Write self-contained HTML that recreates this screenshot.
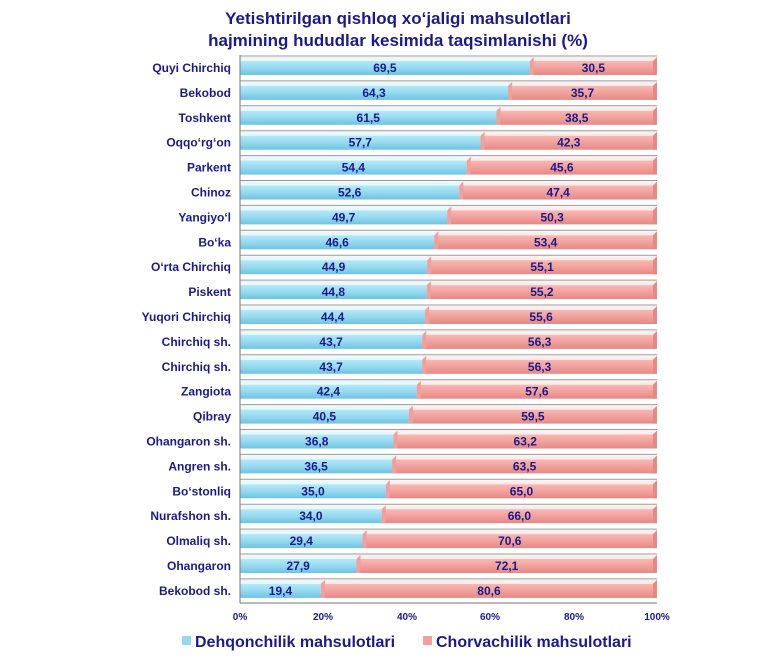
<!DOCTYPE html>
<html><head><meta charset="utf-8"><style>
body{margin:0;background:#fff;width:775px;height:665px;overflow:hidden}
svg{display:block;font-family:"Liberation Sans",Arial,sans-serif;font-weight:bold}
</style></head><body>
<svg width="775" height="665" viewBox="0 0 775 665">
<defs>
<linearGradient id="gb" x1="0" y1="0" x2="0" y2="1"><stop offset="0" stop-color="#b5e8f7"/><stop offset="0.5" stop-color="#95d9f0"/><stop offset="1" stop-color="#6fc3e0"/></linearGradient>
<linearGradient id="gp" x1="0" y1="0" x2="0" y2="1"><stop offset="0" stop-color="#f8b8b4"/><stop offset="0.5" stop-color="#f1a09c"/><stop offset="1" stop-color="#e58985"/></linearGradient>
</defs>
<text x="398" y="24" text-anchor="middle" font-size="17" fill="#1a1a8c">Yetishtirilgan qishloq xoʻjaligi mahsulotlari</text>
<text x="398" y="46" text-anchor="middle" font-size="17" fill="#1a1a8c">hajmining hududlar kesimida taqsimlanishi (%)</text>
<g id="bars"></g>
<line x1="240" y1="603" x2="657" y2="603" stroke="#777"/>
<line x1="240" y1="55" x2="240" y2="603" stroke="#777"/>
<g font-size="10" fill="#1a1a8c" text-anchor="middle">
<text x="240" y="620">0%</text><text x="323" y="620">20%</text><text x="407" y="620">40%</text><text x="490" y="620">60%</text><text x="574" y="620">80%</text><text x="657" y="620">100%</text>
</g>
<rect x="182" y="636" width="9" height="9" fill="#95d9f0"/>
<text x="195" y="647" font-size="16" fill="#1a1a8c">Dehqonchilik mahsulotlari</text>
<rect x="423" y="636" width="9" height="9" fill="#f1a09c"/>
<text x="436" y="647" font-size="16" fill="#1a1a8c">Chorvachilik mahsulotlari</text>
</svg>
<script>
var d=[["Quyi Chirchiq",69.5],["Bekobod",64.3],["Toshkent",61.5],["Oqqoʻrgʻon",57.7],["Parkent",54.4],["Chinoz",52.6],["Yangiyoʻl",49.7],["Boʻka",46.6],["Oʻrta Chirchiq",44.9],["Piskent",44.8],["Yuqori Chirchiq",44.4],["Chirchiq sh.",43.7],["Chirchiq sh.",43.7],["Zangiota",42.4],["Qibray",40.5],["Ohangaron sh.",36.8],["Angren sh.",36.5],["Boʻstonliq",35.0],["Nurafshon sh.",34.0],["Olmaliq sh.",29.4],["Ohangaron",27.9],["Bekobod sh.",19.4]];
var s="",x0=240,W=417;
function f(v){return v.toFixed(1).replace('.',',');}
d.forEach(function(r,i){
 var cy=68+i*24.9, top=cy-11, xm=x0+W*r[1]/100, xe=x0+W;
 s+='<line x1="240" y1="'+(top-1)+'" x2="'+xe+'" y2="'+(top-1)+'" stroke="#999"/>';
 s+='<rect x="'+x0+'" y="'+top+'" width="'+(xm-x0)+'" height="4" fill="#e8f8fd"/>';
 s+='<rect x="'+xm+'" y="'+top+'" width="'+(xe-xm)+'" height="4" fill="#fdeeed"/>';
 s+='<rect x="'+x0+'" y="'+(top+4)+'" width="'+(xm-x0)+'" height="14" fill="url(#gb)"/>';
 s+='<rect x="'+xm+'" y="'+(top+4)+'" width="'+(xe-xm)+'" height="14" fill="url(#gp)"/>';
 s+='<polygon points="'+xm+','+(top+4)+' '+(xm+4)+','+top+' '+(xm+4)+','+(top+18)+' '+xm+','+(top+18)+'" fill="#f1a09c"/>';
 s+='<polygon points="'+(xe-4)+','+(top+4)+' '+xe+','+top+' '+xe+','+(top+18)+' '+(xe-4)+','+(top+18)+'" fill="#e58985"/>';
 s+='<text x="'+((x0+xm)/2)+'" y="'+(cy+4)+'" text-anchor="middle" font-size="12" fill="#1a1a8c">'+f(r[1])+'</text>';
 s+='<text x="'+((xm+xe)/2)+'" y="'+(cy+4)+'" text-anchor="middle" font-size="12" fill="#1a1a8c">'+f(100-r[1])+'</text>';
 s+='<text x="231" y="'+(cy+4)+'" text-anchor="end" font-size="12" fill="#1a1a8c">'+r[0]+'</text>';
});
document.getElementById('bars').innerHTML=s;
</script>
</body></html>
